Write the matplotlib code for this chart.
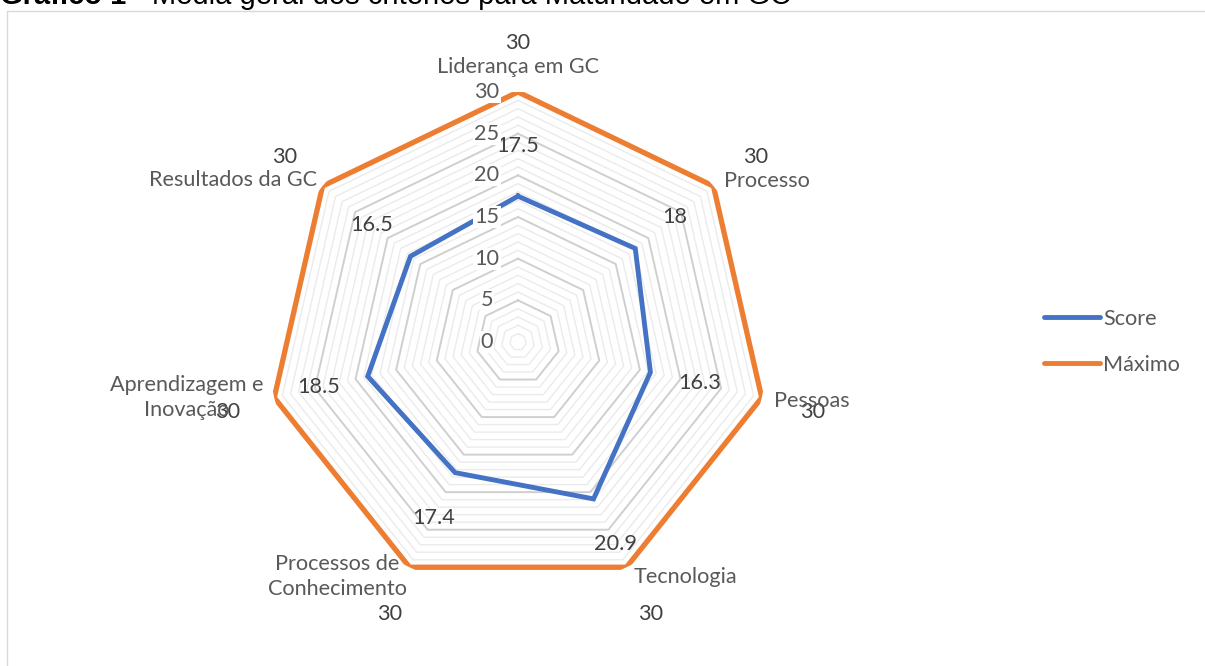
import numpy as np
import matplotlib
matplotlib.use("Agg")
import matplotlib.pyplot as plt
from matplotlib.patches import Rectangle
from matplotlib.lines import Line2D

categories = ["Liderança em GC", "Processo", "Pessoas", "Tecnologia",
              "Processos de\nConhecimento", "Aprendizagem e\nInovação", "Resultados da GC"]
score = [17.5, 18, 16.3, 20.9, 17.4, 18.5, 16.5]
maximo = [30, 30, 30, 30, 30, 30, 30]
radial_ticks = [0, 5, 10, 15, 20, 25, 30]
series_names = ["Score", "Máximo"]
title_bold = "Gráfico 1"
title_rest = " - Média geral dos critérios para Maturidade em GC"

BLUE = "#4472C4"
ORANGE = "#ED7D31"
TXT = "#595959"
FONT = "Lato"
FS = 15.6

W, H, DPI = 1205, 666, 100
fig = plt.figure(figsize=(W / DPI, H / DPI), dpi=DPI)

# chart frame
fig.patches.append(Rectangle((7.5 / W, -0.1), 1.2, 1 - 11 / H + 0.1, transform=fig.transFigure,
                             facecolor="none", edgecolor="#D9D9D9", linewidth=1.0))
# clipped title
TB = 1 - 4.5 / H
t1 = fig.text(0.0, TB, title_bold, fontsize=21, fontweight="bold",
              family="Liberation Sans", color="black", va="baseline", ha="left")
fig.canvas.draw()
bb = t1.get_window_extent()
fig.text(bb.x1 / W, TB, title_rest, fontsize=21, family="Liberation Sans",
         color="black", va="baseline", ha="left")

cx, cy, R = 518, 342, 250
ax = fig.add_axes([(cx - R) / W, (H - cy - R) / H, 2 * R / W, 2 * R / H], projection="polar")
ax.set_theta_zero_location("N")
ax.set_theta_direction(-1)
ax.set_ylim(0, 30)
ax.grid(False)
ax.set_xticks([])
ax.set_yticks([])
ax.spines["polar"].set_visible(False)
ax.patch.set_alpha(0)

n = len(categories)
theta = np.arange(n) * 2 * np.pi / n
theta_c = np.append(theta, theta[0])

# gridlines: minor every 1, major every 5
for r in range(1, 31):
    major = r % 5 == 0
    ax.plot(theta_c, [r] * (n + 1), color="#CFCFCF" if major else "#EBEBEB",
            lw=1.4 if major else 1.0, zorder=1)

ax.plot(theta_c, np.append(score, score[0]), color=BLUE, lw=3.5, zorder=3,
        solid_joinstyle="miter")
ax.plot(theta_c, np.append(maximo, maximo[0]), color=ORANGE, lw=3.8, zorder=3,
        solid_joinstyle="miter")

# radial tick labels
for v in radial_ticks:
    ax.annotate(str(v), xy=(0, v), xytext=(-31, 0), textcoords="offset pixels",
                ha="center", va="center", fontsize=FS, family=FONT, color=TXT,
                bbox=dict(boxstyle="square,pad=0.05", fc="white", ec="none"),
                zorder=6, annotation_clip=False)

# score data labels
for th, v in zip(theta, score):
    ax.text(th, v + 6, f"{v:g}", ha="center", va="center", fontsize=FS, family=FONT,
            color="#404040", zorder=5)

# max labels and category labels (offsets from vertex in pixels)
max_off = [(0, 49), (42, 29), (51, -14), (24, -47), (-20, -47), (-47, -14), (-38, 29)]
cat_off = [(0, 25), (53, 5), (50, -3), (59, -10), (-72, -9), (-88, 0), (-90, 6)]
for th, v, (dx, dy) in zip(theta, maximo, max_off):
    ax.annotate(f"{v:g}", xy=(th, v), xytext=(dx, dy), textcoords="offset pixels",
                ha="center", va="center", fontsize=FS, family=FONT, color="#404040",
                zorder=5, annotation_clip=False)
for th, lab, (dx, dy) in zip(theta, categories, cat_off):
    ax.annotate(lab, xy=(th, 30), xytext=(dx, dy), textcoords="offset pixels",
                ha="center", va="center", fontsize=FS, family=FONT, color=TXT,
                linespacing=1.3, zorder=5, annotation_clip=False)

handles = [Line2D([], [], color=BLUE, lw=3.5, solid_capstyle="round"),
           Line2D([], [], color=ORANGE, lw=3.5, solid_capstyle="round")]
leg = fig.legend(handles, series_names, loc="center left",
                 bbox_to_anchor=(1024 / W, 1 - 342 / H), frameon=False,
                 prop={"family": FONT, "size": FS}, handlelength=2.6,
                 handletextpad=0.15, labelspacing=1.2)
for t in leg.get_texts():
    t.set_color(TXT)

fig.savefig("out.png", dpi=DPI)
